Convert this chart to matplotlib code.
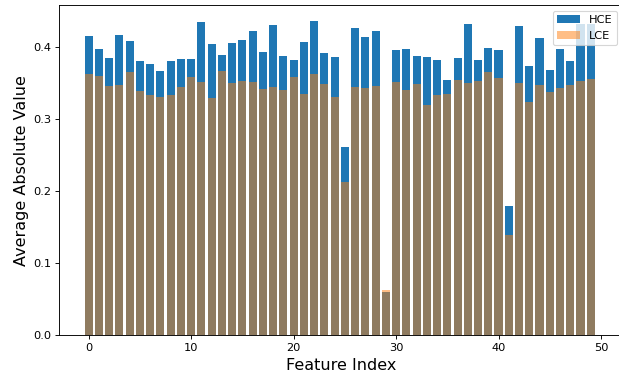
import numpy as np
import matplotlib
matplotlib.use("Agg")
import matplotlib.pyplot as plt

# average absolute value per feature
hce = [0.416, 0.398, 0.385, 0.417, 0.409, 0.381, 0.377, 0.367, 0.381, 0.384,
       0.384, 0.435, 0.405, 0.390, 0.406, 0.410, 0.423, 0.393, 0.431, 0.388,
       0.383, 0.407, 0.437, 0.392, 0.387, 0.261, 0.427, 0.414, 0.423, 0.060,
       0.396, 0.398, 0.388, 0.387, 0.383, 0.355, 0.385, 0.433, 0.382, 0.399,
       0.396, 0.180, 0.430, 0.374, 0.413, 0.368, 0.398, 0.381, 0.433, 0.433]
lce = [0.363, 0.360, 0.346, 0.348, 0.366, 0.339, 0.334, 0.331, 0.334, 0.345,
       0.359, 0.352, 0.329, 0.367, 0.350, 0.353, 0.352, 0.342, 0.345, 0.341,
       0.359, 0.335, 0.363, 0.349, 0.331, 0.213, 0.345, 0.343, 0.346, 0.063,
       0.352, 0.341, 0.349, 0.320, 0.334, 0.335, 0.355, 0.350, 0.353, 0.366,
       0.357, 0.139, 0.350, 0.324, 0.348, 0.338, 0.343, 0.348, 0.353, 0.356]
features = np.arange(len(hce))

fig = plt.figure(figsize=(619 / 82, 379 / 82), dpi=82)
# right edge of the axes sits just past the image border, as in the reference
ax = fig.add_axes([0.096, 0.115, 0.9105, 0.872])

ax.bar(features, hce, color="tab:blue", label="HCE")
ax.bar(features, lce, color="tab:orange", alpha=0.5, label="LCE")

ax.set_xlim(-2.85, 52.14)
ax.set_xlabel("Feature Index", fontsize=14)
ax.set_ylabel("Average Absolute Value", fontsize=14)
ax.legend(loc="upper right", fontsize=10)

fig.savefig("out.png", dpi=82)
